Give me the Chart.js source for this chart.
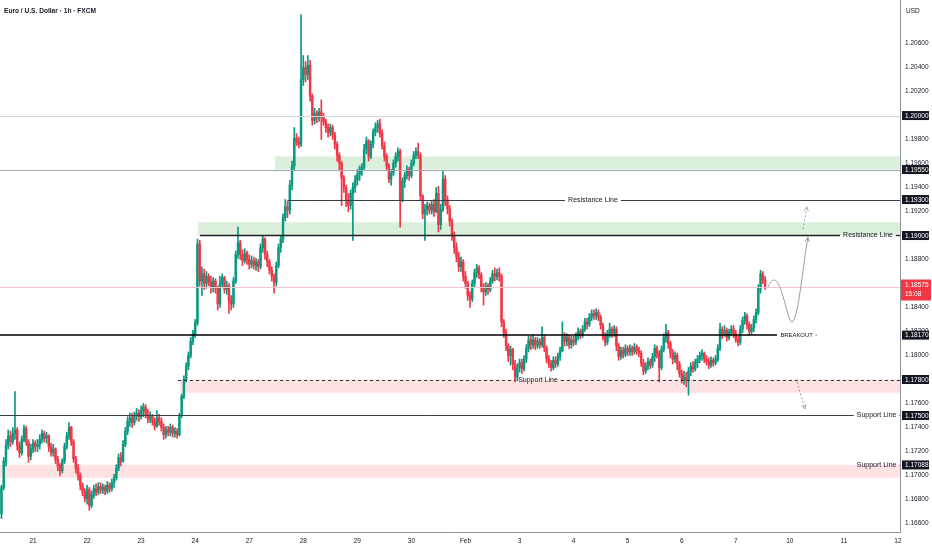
<!DOCTYPE html>
<html><head><meta charset="utf-8">
<script src="https://cdn.jsdelivr.net/npm/chart.js@4.4.1/dist/chart.umd.min.js"></script>
<style>html,body{margin:0;padding:0;background:#fff;}canvas{display:block;}</style>
</head><body>
<canvas id="c" width="932" height="550"></canvas>
<script>
// ---------- DATA ----------
const firstHour = -14;          // hour index of first candle (hour 0 = start of "21")
const firstOpen = 1.1668;
const closes = [
 1.1690,1.1712,1.1725,1.1733,1.1728,1.1735,1.1738,1.1725,1.1719,1.1730,1.1739,1.1728,1.1716,1.1722,1.1727,
 1.1724,1.1726,1.1730,1.1735,1.1731,1.1733,1.1724,1.1719,1.1722,1.1713,1.1708,1.1704,1.1712,1.1724,1.1733,1.1740,1.1728,1.1714,1.1706,1.1700,1.1692,1.1686,1.1681,1.1688,
 1.1675,1.1684,1.1689,1.1686,1.1691,1.1688,1.1690,1.1687,1.1692,1.1689,1.1694,1.1698,1.1706,1.1715,1.1712,1.1726,1.1737,1.1745,1.1748,1.1744,1.1750,1.1752,1.1749,1.1754,
 1.1757,1.1751,1.1747,1.1750,1.1745,1.1741,1.1748,1.1745,1.1740,1.1734,1.1738,1.1736,1.1740,1.1735,1.1737,1.1734,1.1750,1.1766,1.1780,1.1791,1.1800,1.1812,1.1818,1.1827,
 1.1893,1.1862,1.1868,1.1860,1.1866,1.1861,1.1857,1.1862,1.1856,1.1843,1.1860,1.1865,1.1855,1.1858,1.1846,1.1843,1.1862,1.1884,1.1894,1.1884,1.1879,1.1885,1.1880,1.1876,
 1.1879,1.1875,1.1878,1.1874,1.1890,1.1897,1.1884,1.1878,1.1871,1.1866,1.1861,1.1875,1.1890,1.1897,1.1915,1.1924,1.1921,1.1942,1.1958,1.1981,1.1978,1.1976,1.2030,1.2040,
 1.2034,1.2042,1.2016,1.1996,1.2002,1.1998,1.2003,1.1999,1.1995,1.1990,1.1986,1.1990,1.1984,1.1976,1.1967,1.1960,1.1948,1.1940,1.1929,1.1925,1.1935,1.1940,1.1946,1.1951,
 1.1955,1.1957,1.1972,1.1979,1.1966,1.1976,1.1986,1.1990,1.1993,1.1985,1.1975,1.1966,1.1958,1.1947,1.1952,1.1960,1.1966,1.1970,1.1930,1.1945,1.1950,1.1955,1.1950,1.1960,
 1.1967,1.1970,1.1967,1.1933,1.1918,1.1922,1.1925,1.1921,1.1926,1.1920,1.1935,1.1909,1.1922,1.1947,1.1930,1.1922,1.1912,1.1900,1.1890,1.1882,1.1874,1.1878,1.1866,1.1860,
 1.1850,1.1847,1.1860,1.1869,1.1873,1.1867,1.1857,1.1853,1.1858,1.1855,1.1862,1.1868,1.1866,1.1869,1.1866,1.1828,1.1819,1.1808,1.1800,1.1805,1.1793,1.1782,1.1790,1.1794,
 1.1789,1.1797,1.1806,1.1813,1.1809,1.1813,1.1808,1.1812,1.1809,1.1815,1.1806,1.1797,1.1793,1.1790,1.1796,1.1793,1.1799,1.1804,1.1816,1.1812,1.1815,1.1809,1.1813,1.1811,
 1.1816,1.1820,1.1817,1.1822,1.1828,1.1826,1.1832,1.1835,1.1833,1.1836,1.1832,1.1825,1.1816,1.1811,1.1818,1.1822,1.1819,1.1822,1.1808,1.1799,1.1804,1.1801,1.1806,1.1803,
 1.1806,1.1803,1.1807,1.1804,1.1802,1.1794,1.1787,1.1791,1.1795,1.1792,1.1799,1.1806,1.1802,1.1790,1.1805,1.1815,1.1819,1.1810,1.1802,1.1797,1.1800,1.1793,1.1785,1.1780,
 1.1782,1.1779,1.1787,1.1791,1.1789,1.1794,1.1797,1.1800,1.1802,1.1797,1.1795,1.1792,1.1796,1.1794,1.1797,1.1806,1.1822,1.1818,1.1821,1.1815,1.1819,1.1822,1.1818,1.1813,
 1.1811,1.1822,1.1829,1.1833,1.1826,1.1820,1.1823,1.1830,1.1836,1.1856,1.1868,1.1863,1.18575
];
const highs = [
 1.1692,1.1715,1.1730,1.1738,1.1737,1.1740,1.1770,1.1740,1.1728,1.1733,1.1742,1.1741,1.1730,1.1726,1.1730,
 1.1729,1.1730,1.1734,1.1738,1.1737,1.1736,1.1734,1.1727,1.1726,1.1723,1.1716,1.1710,1.1714,1.1727,1.1736,1.1744,1.1741,1.1730,1.1716,1.1709,1.1702,1.1694,1.1689,1.1692,
 1.1690,1.1687,1.1692,1.1693,1.1694,1.1694,1.1693,1.1692,1.1695,1.1694,1.1697,1.1701,1.1709,1.1718,1.1719,1.1729,1.1740,1.1749,1.1752,1.1752,1.1753,1.1756,1.1755,1.1758,
 1.1760,1.1759,1.1755,1.1753,1.1751,1.1748,1.1754,1.1751,1.1748,1.1743,1.1741,1.1741,1.1743,1.1742,1.1740,1.1739,1.1752,1.1768,1.1783,1.1794,1.1803,1.1815,1.1821,1.1830,
 1.1897,1.1896,1.1874,1.1872,1.1870,1.1868,1.1866,1.1865,1.1864,1.1858,1.1866,1.1868,1.1866,1.1862,1.1860,1.1850,1.1865,1.1887,1.1907,1.1896,1.1888,1.1889,1.1887,1.1884,
 1.1883,1.1882,1.1881,1.1880,1.1893,1.1900,1.1898,1.1887,1.1880,1.1874,1.1868,1.1878,1.1893,1.1900,1.1918,1.1930,1.1929,1.1946,1.1962,1.1990,1.1985,1.1982,1.2084,1.2050,
 1.2045,1.2050,1.2046,1.2018,1.2006,1.2004,1.2006,1.2013,1.2002,1.1997,1.1993,1.1993,1.1992,1.1986,1.1978,1.1969,1.1962,1.1950,1.1942,1.1935,1.1938,1.1944,1.1950,1.1955,
 1.1958,1.1960,1.1976,1.1982,1.1980,1.1979,1.1989,1.1994,1.1996,1.1997,1.1988,1.1978,1.1968,1.1960,1.1955,1.1963,1.1969,1.1973,1.1972,1.1948,1.1953,1.1958,1.1957,1.1963,
 1.1970,1.1973,1.1977,1.1969,1.1934,1.1926,1.1928,1.1927,1.1929,1.1930,1.1940,1.1941,1.1926,1.1954,1.1950,1.1933,1.1925,1.1914,1.1903,1.1894,1.1886,1.1882,1.1880,1.1870,
 1.1862,1.1853,1.1863,1.1872,1.1876,1.1875,1.1869,1.1860,1.1861,1.1860,1.1865,1.1871,1.1873,1.1872,1.1873,1.1868,1.1830,1.1822,1.1810,1.1808,1.1806,1.1796,1.1793,1.1797,
 1.1797,1.1800,1.1809,1.1816,1.1816,1.1817,1.1815,1.1815,1.1814,1.1824,1.1817,1.1808,1.1800,1.1796,1.1799,1.1799,1.1802,1.1807,1.1828,1.1819,1.1818,1.1817,1.1816,1.1816,
 1.1819,1.1823,1.1822,1.1825,1.1831,1.1831,1.1835,1.1838,1.1838,1.1839,1.1838,1.1834,1.1827,1.1819,1.1821,1.1827,1.1824,1.1825,1.1824,1.1810,1.1807,1.1807,1.1809,1.1808,
 1.1809,1.1808,1.1810,1.1809,1.1807,1.1804,1.1797,1.1794,1.1798,1.1797,1.1802,1.1809,1.1808,1.1804,1.1808,1.1818,1.1826,1.1821,1.1812,1.1805,1.1803,1.1802,1.1795,1.1788,
 1.1787,1.1786,1.1790,1.1794,1.1795,1.1797,1.1800,1.1803,1.1805,1.1803,1.1800,1.1798,1.1799,1.1798,1.1800,1.1809,1.1827,1.1824,1.1825,1.1823,1.1822,1.1825,1.1825,1.1821,
 1.1816,1.1825,1.1832,1.1836,1.1835,1.1828,1.1826,1.1833,1.1839,1.1859,1.1871,1.1870,1.1866
];
const lows = [
 1.1664,1.1688,1.1708,1.1722,1.1724,1.1726,1.1730,1.1721,1.1715,1.1717,1.1728,1.1725,1.1711,1.1713,1.1719,
 1.1720,1.1720,1.1722,1.1727,1.1728,1.1727,1.1720,1.1716,1.1716,1.1710,1.1704,1.1700,1.1702,1.1710,1.1722,1.1730,1.1725,1.1711,1.1702,1.1696,1.1688,1.1683,1.1678,1.1676,
 1.1671,1.1673,1.1681,1.1683,1.1684,1.1685,1.1685,1.1684,1.1685,1.1686,1.1687,1.1690,1.1696,1.1704,1.1708,1.1711,1.1724,1.1734,1.1741,1.1740,1.1742,1.1746,1.1745,1.1747,
 1.1749,1.1748,1.1744,1.1744,1.1742,1.1738,1.1740,1.1742,1.1737,1.1730,1.1731,1.1733,1.1733,1.1732,1.1732,1.1731,1.1733,1.1748,1.1764,1.1778,1.1788,1.1798,1.1809,1.1815,
 1.1825,1.1858,1.1850,1.1855,1.1856,1.1858,1.1852,1.1853,1.1852,1.1838,1.1840,1.1857,1.1852,1.1851,1.1835,1.1838,1.1840,1.1860,1.1881,1.1880,1.1875,1.1877,1.1876,1.1872,
 1.1873,1.1872,1.1871,1.1870,1.1872,1.1886,1.1880,1.1874,1.1868,1.1862,1.1852,1.1858,1.1873,1.1886,1.1894,1.1912,1.1915,1.1918,1.1938,1.1955,1.1975,1.1973,1.1974,1.2025,
 1.2028,1.2030,1.2012,1.1992,1.1993,1.1994,1.1995,1.1980,1.1992,1.1986,1.1982,1.1983,1.1980,1.1972,1.1962,1.1955,1.1925,1.1936,1.1924,1.1920,1.1922,1.1896,1.1936,1.1942,
 1.1946,1.1950,1.1955,1.1968,1.1962,1.1964,1.1973,1.1983,1.1986,1.1982,1.1972,1.1962,1.1955,1.1944,1.1942,1.1950,1.1957,1.1962,1.1907,1.1928,1.1940,1.1947,1.1946,1.1948,
 1.1958,1.1964,1.1964,1.1929,1.1914,1.1896,1.1917,1.1918,1.1918,1.1916,1.1919,1.1903,1.1905,1.1920,1.1925,1.1918,1.1908,1.1896,1.1885,1.1878,1.1870,1.1870,1.1862,1.1856,
 1.1846,1.1840,1.1845,1.1857,1.1865,1.1864,1.1853,1.1842,1.1850,1.1851,1.1853,1.1860,1.1862,1.1863,1.1862,1.1824,1.1815,1.1804,1.1795,1.1792,1.1788,1.1778,1.1779,1.1786,
 1.1785,1.1787,1.1794,1.1803,1.1805,1.1806,1.1805,1.1806,1.1806,1.1807,1.1803,1.1794,1.1790,1.1787,1.1788,1.1790,1.1791,1.1796,1.1803,1.1808,1.1808,1.1806,1.1806,1.1808,
 1.1809,1.1813,1.1814,1.1815,1.1820,1.1822,1.1824,1.1829,1.1830,1.1830,1.1829,1.1822,1.1813,1.1808,1.1809,1.1815,1.1815,1.1816,1.1804,1.1796,1.1797,1.1798,1.1799,1.1800,
 1.1800,1.1800,1.1801,1.1801,1.1799,1.1791,1.1784,1.1785,1.1788,1.1789,1.1790,1.1795,1.1798,1.1778,1.1788,1.1803,1.1811,1.1806,1.1798,1.1793,1.1794,1.1788,1.1782,1.1777,
 1.1776,1.1774,1.1767,1.1783,1.1786,1.1787,1.1790,1.1794,1.1796,1.1794,1.1792,1.1789,1.1790,1.1791,1.1792,1.1795,1.1804,1.1814,1.1816,1.1812,1.1813,1.1817,1.1815,1.1811,
 1.1808,1.1809,1.1819,1.1826,1.1822,1.1817,1.1818,1.1820,1.1827,1.1834,1.1852,1.1860,1.1855
];
const dayLabels = ['21','22','23','24','27','28','29','30','Feb','3','4','5','6','7','10','11','12'];
const yTickValues = [1.166,1.168,1.170,1.172,1.174,1.176,1.178,1.180,1.182,1.184,1.186,1.188,1.190,1.192,1.194,1.196,1.198,1.200,1.202,1.204,1.206];
const markedLevels = [1.20000,1.19550,1.19300,1.19000,1.18170,1.17800,1.17500,1.17088];
const lastPrice = 1.18575;
const lastTimeText = '15:08';
const greenZones = [[1.1966,1.1955],[1.1911,1.1900]];
const redZones = [[1.1780,1.1769],[1.1709,1.1698]];

// ---------- BUILD ----------
const UP = '#089981', DN = '#f23645';
const FONT = '"Liberation Sans", Arial, sans-serif';
Chart.defaults.font.family = FONT;
const opens = closes.map((c,i)=> i===0 ? firstOpen : closes[i-1]);
const candleColor = closes.map((c,i)=> c >= opens[i] ? UP : DN);
const wickData = closes.map((c,i)=>({x:firstHour+i, y:[Math.min(lows[i],opens[i],c), Math.max(highs[i],opens[i],c)]}));
const bodyData = closes.map((c,i)=>({x:firstHour+i, y:[opens[i], c]}));

const zoneCfg = [
  {band:greenZones[0], from:107.4, color:'rgba(76,175,80,0.2)'},
  {band:greenZones[1], from:73.2,  color:'rgba(76,175,80,0.2)'},
  {band:redZones[0],   from:65.3,  color:'rgba(242,54,69,0.15)'},
  {band:redZones[1],   from:null,  color:'rgba(242,54,69,0.15)'}
];
const lineCfg = [
  {p:markedLevels[0], from:null, color:'#d5d6da', w:1},
  {p:markedLevels[1], from:null, color:'#a5a8b0', w:1},
  {p:markedLevels[2], from:113.2, color:'#3b3e46', w:1, text:'Resistance Line', tc:248.6},
  {p:markedLevels[3], from:74.1, color:'#1e2026', w:1.3, text:'Resistance Line', tc:370.7},
  {p:lastPrice, from:null, color:'#f6c3ca', w:1},
  {p:markedLevels[4], from:null, to:330.3, color:'#000000', w:1.5, textLeft:331.8, text:'BREAKOUT', small:true, tail:[347.4,348.1]},
  {p:markedLevels[5], from:64.4, color:'#2a2d35', w:1, dash:[3,3], text:'Support Line', tc:224.2},
  {p:markedLevels[6], from:null, color:'#3b3e46', w:1, text:'Support Line', tc:374.5},
  {p:markedLevels[7], from:372, color:'#5d606b', w:1, text:'Support Line', tc:374.5}
];

const annPlugin = {
  id:'ann',
  beforeDatasetsDraw(chart){
    const {ctx, chartArea:a, scales:{x,y}} = chart;
    ctx.save();
    zoneCfg.forEach(z=>{
      const x0 = z.from==null ? a.left : Math.max(a.left, x.getPixelForValue(z.from));
      const y0 = y.getPixelForValue(z.band[0]), y1 = y.getPixelForValue(z.band[1]);
      ctx.fillStyle = z.color; ctx.fillRect(x0, y0, a.right-x0, y1-y0);
    });
    ctx.restore();
  },
  afterDatasetsDraw(chart){
    const {ctx, chartArea:a, scales:{x,y}} = chart;
    ctx.save();
    ctx.textBaseline = 'middle';
    lineCfg.forEach(l=>{
      ctx.font = (l.small ? '5.9px ' : '7px ') + FONT;
      let yy = y.getPixelForValue(l.p);
      if (l.w === 1) yy = Math.round(yy) + 0.5;
      const x0 = l.from==null ? a.left : x.getPixelForValue(l.from);
      const x1 = l.to==null ? a.right : x.getPixelForValue(l.to);
      let segs = [[x0,x1]];
      if (l.text && l.tc!=null){
        const w = ctx.measureText(l.text).width;
        const tc = x.getPixelForValue(l.tc);
        segs = [[x0, tc-w/2-3],[tc+w/2+3, x1]];
        ctx.fillStyle = '#131722'; ctx.textAlign = 'center';
        ctx.fillText(l.text, tc, yy);
      } else if (l.text && l.textLeft!=null){
        ctx.fillStyle = '#131722'; ctx.textAlign = 'left';
        ctx.fillText(l.text, x.getPixelForValue(l.textLeft), yy);
      }
      ctx.strokeStyle = l.color; ctx.lineWidth = l.w; ctx.setLineDash(l.dash||[]);
      segs.forEach(([s,e])=>{ if (e > s){ ctx.beginPath(); ctx.moveTo(s,yy); ctx.lineTo(e,yy); ctx.stroke(); } });
      if (l.tail){
        ctx.lineWidth = 1; ctx.strokeStyle = '#8a8d96';
        ctx.beginPath(); ctx.moveTo(x.getPixelForValue(l.tail[0]), yy); ctx.lineTo(x.getPixelForValue(l.tail[1]), yy); ctx.stroke();
      }
    });
    ctx.setLineDash([]);
    // projection arrows
    const P = (h,p)=>[x.getPixelForValue(h), y.getPixelForValue(p)];
    const head = (tip, from, col)=>{
      const ang = Math.atan2(tip[1]-from[1], tip[0]-from[0]);
      ctx.strokeStyle = col; ctx.setLineDash([]);
      ctx.beginPath();
      ctx.moveTo(tip[0]-5*Math.cos(ang-0.45), tip[1]-5*Math.sin(ang-0.45));
      ctx.lineTo(tip[0], tip[1]);
      ctx.lineTo(tip[0]-5*Math.cos(ang+0.45), tip[1]-5*Math.sin(ang+0.45));
      ctx.stroke();
    };
    const col = '#9a9ca5';
    ctx.strokeStyle = col; ctx.lineWidth = 1;
    const S = P(326.3,1.18571), C1 = P(331.6,1.18800), C2 = P(334.5,1.18279), V = P(336.9,1.18279);
    const C3 = P(339.6,1.18279), C4 = P(341.9,1.18760), E = P(344.0,1.18985);
    ctx.beginPath(); ctx.moveTo(...S); ctx.bezierCurveTo(...C1,...C2,...V); ctx.bezierCurveTo(...C3,...C4,...E); ctx.stroke();
    head(E, C4, col);
    const d0 = P(341.8,1.19054), d1 = P(343.6,1.19240);
    ctx.setLineDash([2,2]); ctx.beginPath(); ctx.moveTo(...d0); ctx.lineTo(...d1); ctx.stroke();
    head(d1, d0, '#b4b6bd');
    const s0 = P(339.2,1.17779), s1 = P(342.7,1.17554);
    ctx.setLineDash([2,2]); ctx.strokeStyle = col; ctx.beginPath(); ctx.moveTo(...s0); ctx.lineTo(...s1); ctx.stroke();
    head(s1, s0, col);
    ctx.restore();
  },
  afterDraw(chart){
    const {ctx, chartArea:a, scales:{y}} = chart;
    ctx.save();
    ctx.textBaseline = 'middle'; ctx.textAlign = 'left';
    ctx.font = '6.5px ' + FONT;
    markedLevels.forEach(p=>{
      const yy = y.getPixelForValue(p);
      ctx.fillStyle = '#131722'; ctx.fillRect(a.right+2, yy-4.5, 27, 9);
      ctx.fillStyle = '#ffffff'; ctx.fillText(p.toFixed(5), a.right+5, yy+0.3);
    });
    const ly = y.getPixelForValue(lastPrice);
    ctx.fillStyle = '#f23645'; ctx.fillRect(a.right+1, ly-7, 30, 21);
    ctx.fillStyle = '#ffffff';
    ctx.fillText(lastPrice.toFixed(5), a.right+5, ly-1.5);
    ctx.fillText(lastTimeText, a.right+5, ly+7.5);
    ctx.fillStyle = '#131722';
    ctx.fillText('USD', a.right+6, 11);
    ctx.font = '600 6.6px ' + FONT;
    ctx.fillText('Euro / U.S. Dollar · 1h · FXCM', 4, 11);
    ctx.restore();
  }
};

new Chart(document.getElementById('c'), {
  type:'bar',
  data:{datasets:[
    {label:'wick', data:wickData, backgroundColor:candleColor, barThickness:1, grouped:false, order:2},
    {label:'body', data:bodyData, backgroundColor:candleColor, barThickness:1.8, minBarLength:1, grouped:false, order:1}
  ]},
  options:{
    responsive:false, animation:false, devicePixelRatio:1,
    layout:{padding:0},
    plugins:{legend:{display:false}, tooltip:{enabled:false}},
    scales:{
      x:{type:'linear', min:-14.65, max:384.9, offset:false,
         afterFit(s){ s.height = 18; s.paddingLeft = 0; s.paddingRight = 0; },
         afterBuildTicks(s){ s.ticks = dayLabels.map((l,i)=>({value:i*24})); },
         ticks:{autoSkip:false, maxRotation:0, padding:5, color:'#131722', font:{size:6.5},
                callback:(v)=> dayLabels[Math.round(v/24)] ?? ''},
         grid:{display:true, color:'rgba(0,0,0,0)', drawTicks:false},
         border:{display:true, color:'#8f929b', width:1}},
      y:{type:'linear', position:'right', min:1.16529, max:1.20963,
         afterFit(s){ s.width = 32; s.paddingTop = 0; s.paddingBottom = 0; },
         afterBuildTicks(s){ s.ticks = yTickValues.map(v=>({value:v})); },
         ticks:{autoSkip:false, padding:5, color:'#131722', font:{size:6.5},
                callback:(v)=> Number(v).toFixed(5)},
         grid:{display:true, color:'rgba(0,0,0,0)', drawTicks:false},
         border:{display:true, color:'#8f929b', width:1}}
    }
  },
  plugins:[annPlugin]
});
</script>
</body></html>
